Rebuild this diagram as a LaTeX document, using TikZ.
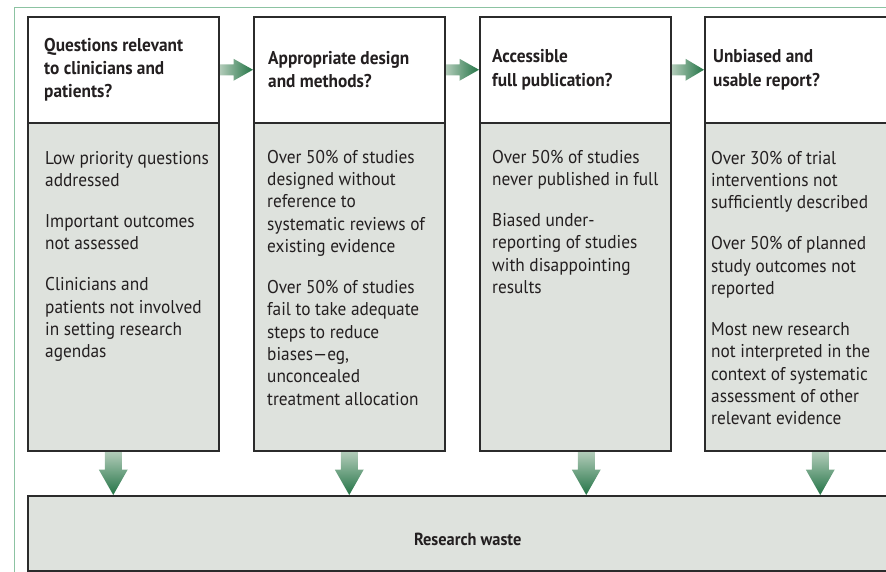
\documentclass[tikz,border=0pt]{standalone}
\usepackage{fontspec}
\setmainfont{PT Sans}[FakeStretch=0.935]
\usetikzlibrary{positioning,backgrounds}

\definecolor{framegreen}{HTML}{8CC3A2}
\definecolor{boxline}{HTML}{2B2B2B}
\definecolor{wastegray}{HTML}{DEE2DD}
\definecolor{arrowlight}{HTML}{B3CCBA}
\definecolor{arrowdark}{HTML}{237446}
\definecolor{inktext}{HTML}{231F20}

\tikzset{
  headbox/.style={draw=boxline, line width=1.5pt, fill=white, anchor=north west,
    minimum width=191pt, minimum height=106pt, inner sep=0pt},
  bodybox/.style={draw=boxline, line width=1.5pt, fill=wastegray, anchor=north west,
    minimum width=191pt, minimum height=328pt, inner sep=0pt},
  wastebox/.style={draw=boxline, line width=1.5pt, fill=wastegray, anchor=north west,
    minimum width=880pt, minimum height=75pt, inner sep=0pt},
  headtxt/.style={anchor=west, align=left, text=inktext, inner sep=0pt,
    font=\bfseries\fontsize{18.5}{23.3}\selectfont},
  bodytxt/.style={anchor=north west, align=left, text=inktext, inner sep=0pt,
    font=\fontsize{18.5}{22.3}\selectfont},
}

\begin{document}
\begin{tikzpicture}[x=1pt,y=-1pt]
  \useasboundingbox (0,0) rectangle (886,571);
  \clip (0,0) rectangle (886,571);
  \draw[framegreen, line width=1pt] (14,7) rectangle (960,620);

  % the four stages
  \foreach \i/\x in {1/27,2/253,3/479,4/704} {
    \node[headbox] (q\i) at (\x,16) {};
    \node[bodybox] (b\i) at (\x,122) {};
  }
  \node[wastebox] (waste) at (27,495) {};

  % questions
  \node[headtxt] (h1) at ([xshift=17pt]q1.west) {Questions relevant\\to clinicians and\\patients?};
  \node[headtxt] (h2) at ([xshift=15pt]q2.west) {Appropriate design\\and methods?};
  \node[headtxt] (h3) at ([xshift=13pt]q3.west) {Accessible\\full publication?};
  \node[headtxt] (h4) at ([xshift=9pt]q4.west) {Unbiased and\\usable report?};

  % what goes wrong
  \node[bodytxt] (t1) at ([xshift=18pt,yshift=-29pt]b1.north west)
    {Low priority questions\\addressed\\[18.7pt]
     Important outcomes\\not assessed\\[18.7pt]
     Clinicians and\\patients not involved\\in setting research\\agendas};
  \node[bodytxt] (t2) at ([xshift=14pt,yshift=-28pt]b2.north west)
    {Over 50\% of studies\\designed without\\reference to\\systematic reviews of\\existing evidence\\[18.7pt]
     Over 50\% of studies\\fail to take adequate\\steps to reduce\\biases---eg,\\unconcealed\\treatment allocation};
  \node[bodytxt] (t3) at ([xshift=13pt,yshift=-28pt]b3.north west)
    {Over 50\% of studies\\never published in full\\[18.7pt]
     Biased under-\\reporting of studies\\with disappointing\\results};
  \node[bodytxt] (t4) at ([xshift=7pt,yshift=-29pt]b4.north west)
    {Over 30\% of trial\\interventions not\\sufficiently described\\[18.7pt]
     Over 50\% of planned\\study outcomes not\\reported\\[18.7pt]
     Most new research\\not interpreted in the\\context of systematic\\assessment of other\\relevant evidence};

  \node[text=inktext, font=\bfseries\fontsize{17.5}{20}\selectfont] (wastelbl)
    at ([yshift=-6pt]waste.center) {Research waste};

  \begin{scope}[on background layer]
    % arrows from stage to stage
    \foreach \i/\j in {1/2,2/3,3/4} {
      \coordinate (src\i) at (q\i.east);
      \shade[left color=arrowlight, right color=arrowdark]
        ([yshift=5.5pt]src\i) -- ([xshift=14pt,yshift=5.5pt]src\i)
        -- ([xshift=14pt,yshift=11pt]src\i) -- (src\i -| q\j.west)
        -- ([xshift=14pt,yshift=-11pt]src\i) -- ([xshift=14pt,yshift=-5.5pt]src\i)
        -- ([yshift=-5.5pt]src\i) -- cycle;
    }
    % arrows down to research waste
    \foreach \i/\dx in {1/-10,2/0,3/11,4/20} {
      \coordinate (top\i) at ([xshift=\dx pt]b\i.south);
      \shade[top color=arrowlight, bottom color=arrowdark]
        ([xshift=-8.5pt]top\i) -- ([xshift=-8.5pt,yshift=-18pt]top\i)
        -- ([xshift=-14.5pt,yshift=-18pt]top\i) -- (top\i |- waste.north)
        -- ([xshift=14.5pt,yshift=-18pt]top\i) -- ([xshift=8.5pt,yshift=-18pt]top\i)
        -- ([xshift=8.5pt]top\i) -- cycle;
    }
  \end{scope}
\end{tikzpicture}
\end{document}
